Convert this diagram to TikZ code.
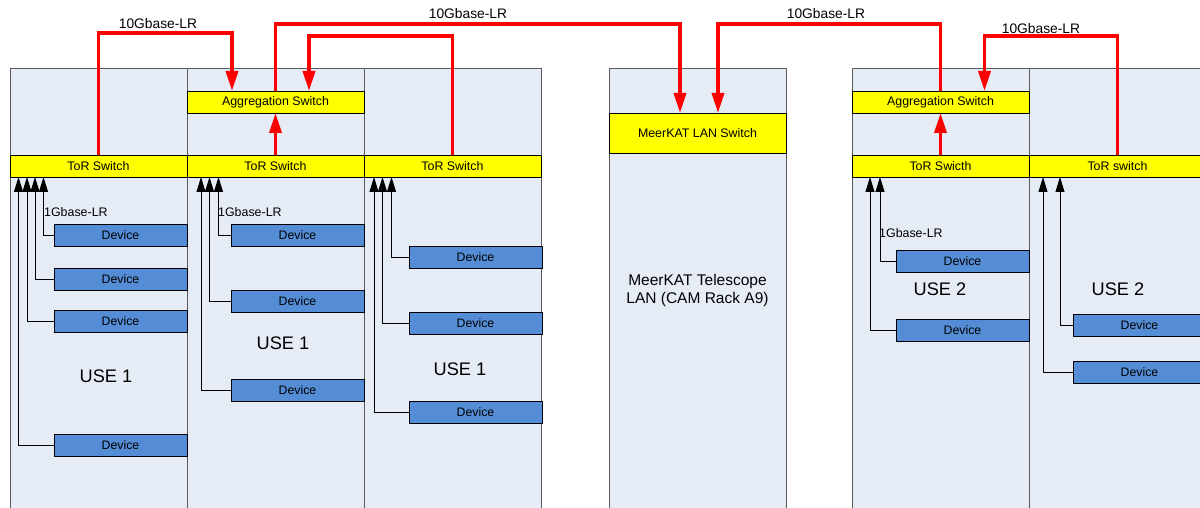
\documentclass[tikz,border=0pt]{standalone}
\usepackage{fontspec}
\setmainfont{Liberation Sans}
\usetikzlibrary{arrows.meta}
\definecolor{rackfill}{RGB}{230,236,246}
\definecolor{rackline}{RGB}{90,90,90}
\definecolor{devblue}{RGB}{84,141,213}
\definecolor{swyellow}{RGB}{255,255,0}
\definecolor{lnred}{RGB}{255,0,0}
\begin{document}
\begin{tikzpicture}[x=1pt,y=-1pt,
  rack/.style={draw=rackline, fill=rackfill, line width=1pt, minimum width=177pt, minimum height=446pt, anchor=north west, inner sep=0pt, outer sep=0pt},
  switchbox/.style={draw=black, fill=swyellow, line width=0.8pt, minimum width=177pt, minimum height=22pt, anchor=north west, inner sep=0pt, outer sep=0pt, font=\fontsize{12.4}{14}\selectfont},
  device/.style={draw=black, fill=devblue, line width=0.8pt, minimum width=133pt, minimum height=22pt, anchor=east, inner sep=0pt, outer sep=0pt, font=\fontsize{12.3}{14}\selectfont},
  uplink/.style={draw=black, line width=0.9pt, -{Triangle[length=15pt,width=9pt]}},
  trunk/.style={draw=lnred, line width=3.5pt, line join=miter, -{Triangle[length=20pt,width=12pt]}},
  biglbl/.style={font=\fontsize{18.2}{21}\selectfont, inner sep=0pt},
  gblbl/.style={font=\fontsize{13.8}{16}\selectfont, inner sep=0pt},
  onelbl/.style={font=\fontsize{12.4}{14}\selectfont, inner sep=0pt, anchor=west}
]
\useasboundingbox (0,0) rectangle (1200,508);
% racks
\node[rack] (r1) at (10,69) {};
\node[rack] (r2) at (187,69) {};
\node[rack] (r3) at (364,69) {};
\node[rack] (r4) at (609,69) {};
\node[rack] (r5) at (852,69) {};
\node[rack] (r6) at (1029,69) {};
% switches
\node[switchbox] (tor1) at (10,155) {ToR Switch};
\node[switchbox] (tor2) at (187,155) {ToR Switch};
\node[switchbox] (tor3) at (364,155) {ToR Switch};
\node[switchbox] (agg2) at (187,91) {Aggregation Switch};
\node[switchbox, minimum height=40pt] (lan) at (609,113) {MeerKAT LAN Switch};
\node[switchbox] (agg5) at (852,91) {Aggregation Switch};
\node[switchbox] (tor5) at (852,155) {ToR Swicth};
\node[switchbox] (tor6) at (1029,155) {ToR switch};
% devices
\node[device] (d11) at (187,235) {Device};
\node[device] (d12) at (187,279) {Device};
\node[device] (d13) at (187,321) {Device};
\node[device] (d14) at (187,445) {Device};
\node[device] (d21) at (364,235) {Device};
\node[device] (d22) at (364,301) {Device};
\node[device] (d23) at (364,390) {Device};
\node[device] (d31) at (542,257) {Device};
\node[device] (d32) at (542,323) {Device};
\node[device] (d33) at (542,412) {Device};
\node[device] (d51) at (1029,261.5) {Device};
\node[device] (d52) at (1029,330) {Device};
\node[device] (d61) at (1206,325.5) {Device};
\node[device] (d62) at (1206,372) {Device};
% area labels
\node[biglbl] (u1) at (106,376) {USE 1};
\node[biglbl] (u2) at (283,343) {USE 1};
\node[biglbl] (u3) at (460,369) {USE 1};
\node[biglbl] (u5) at (940,289) {USE 2};
\node[biglbl] (u6) at (1118,289) {USE 2};
\node[font=\fontsize{15.5}{18}\selectfont, align=center, inner sep=0pt] (mk) at (697.5,290) {MeerKAT Telescope\\LAN (CAM Rack A9)};
% 1G uplinks
\draw[uplink] (d11.west) -| ([xshift=33.5pt]tor1.south west);
\draw[uplink] (d12.west) -| ([xshift=25pt]tor1.south west);
\draw[uplink] (d13.west) -| ([xshift=17pt]tor1.south west);
\draw[uplink] (d14.west) -| ([xshift=8.5pt]tor1.south west);
\draw[uplink] (d21.west) -| ([xshift=31.5pt]tor2.south west);
\draw[uplink] (d22.west) -| ([xshift=22.5pt]tor2.south west);
\draw[uplink] (d23.west) -| ([xshift=14pt]tor2.south west);
\draw[uplink] (d31.west) -| ([xshift=27.5pt]tor3.south west);
\draw[uplink] (d32.west) -| ([xshift=18.5pt]tor3.south west);
\draw[uplink] (d33.west) -| ([xshift=10pt]tor3.south west);
\draw[uplink] (d51.west) -| ([xshift=28pt]tor5.south west);
\draw[uplink] (d52.west) -| ([xshift=18pt]tor5.south west);
\draw[uplink] (d61.west) -| ([xshift=31pt]tor6.south west);
\draw[uplink] (d62.west) -| ([xshift=14pt]tor6.south west);
\node[onelbl] (g1) at (44,212) {1Gbase-LR};
\node[onelbl] (g2) at (218,212) {1Gbase-LR};
\node[onelbl] (g5) at (879,233) {1Gbase-LR};
% 10G trunks
\draw[trunk] (tor1.north) -- ++(0,-122) -| ([xshift=-43.5pt]agg2.north);
\draw[trunk] (agg2.north) -- ++(0,-67) -| ([xshift=-17.5pt]lan.north);
\draw[trunk] (tor3.north) -- ++(0,-119) -| ([xshift=33.5pt]agg2.north);
\draw[trunk] (tor2.north) -- (agg2.south);
\draw[trunk] (agg5.north) -- ++(0,-67) -| ([xshift=20.5pt]lan.north);
\draw[trunk] (tor5.north) -- (agg5.south);
\draw[trunk] (tor6.north) -- ++(0,-119) -| ([xshift=-44.5pt]agg5.north east);
\node[gblbl] (t1) at (158,24) {10Gbase-LR};
\node[gblbl] (t2) at (468,14) {10Gbase-LR};
\node[gblbl] (t5) at (826,14) {10Gbase-LR};
\node[gblbl] (t7) at (1041,29) {10Gbase-LR};
\end{tikzpicture}
\end{document}
